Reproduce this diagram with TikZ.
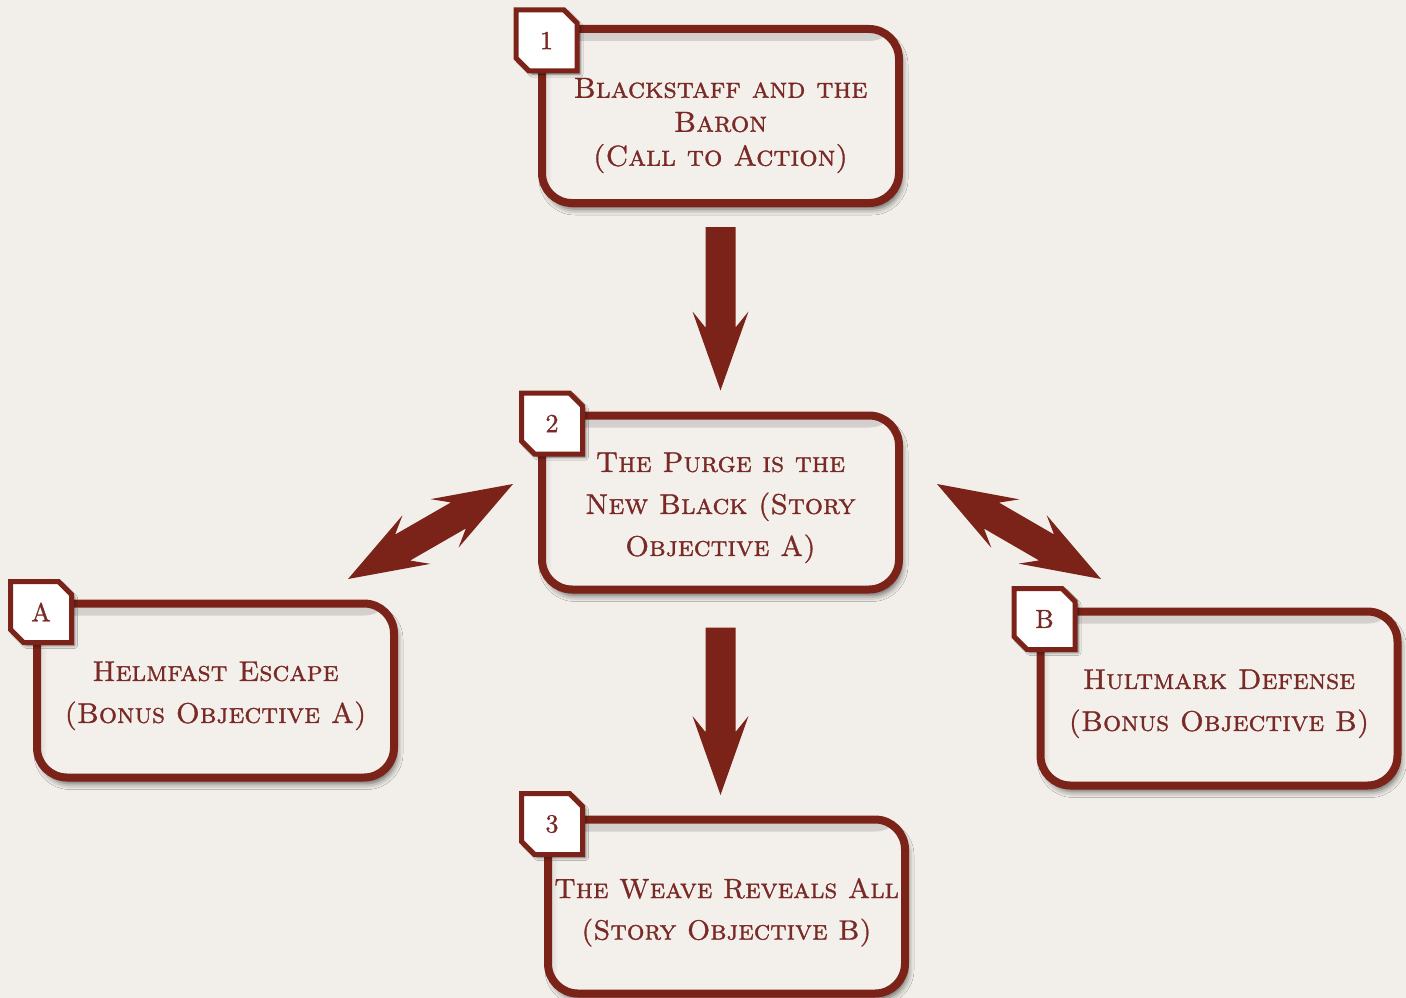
\documentclass[tikz,border=0pt]{standalone}
\usepackage{fontspec}
\usetikzlibrary{calc,shadows.blur}
\newfontfamily\capsfont{lmromancaps10-regular.otf}[FakeBold=1.2]
\newfontfamily\numfont{lmroman10-regular.otf}[FakeBold=1.2]
\definecolor{bg}{HTML}{F2EFEA}
\definecolor{dred}{HTML}{7B2318}
\definecolor{tred}{HTML}{7A2A26}
\definecolor{boxfill}{HTML}{F3F0EC}
\newcommand\lowtext[2]{\raisebox{-#1}[\height][\depth]{\begin{tabular}{@{}c@{}}#2\end{tabular}}}
\newcommand\tagbox[3]{%
  \coordinate (#1c) at #2;
  \filldraw[tagline] ($(#1c)+(-30.5,-30.5)$) -- ($(#1c)+(17.5,-30.5)$) -- ($(#1c)+(30.5,-17.5)$)
    -- ($(#1c)+(30.5,30.5)$) -- ($(#1c)+(-17.5,30.5)$) -- ($(#1c)+(-30.5,17.5)$) -- cycle;
  \node[tagtext] (#1) at (#1c) {#3};}
\newcommand\fatsingle[2]{%
  \fill[dred] let \p1=(#1), \p2=(#2), \n1={atan2(\y2-\y1,\x2-\x1)} in
    ($(\p1)+(\n1+90:15pt)$) -- ($(\p2)+(\n1+180:63pt)+(\n1+90:15pt)$) -- ($(\p2)+(\n1+180:79pt)+(\n1+90:28pt)$)
    -- (\p2) -- ($(\p2)+(\n1+180:79pt)+(\n1-90:28pt)$) -- ($(\p2)+(\n1+180:63pt)+(\n1-90:15pt)$)
    -- ($(\p1)+(\n1-90:15pt)$) -- cycle;}
\newcommand\fatdouble[2]{%
  \fill[dred] let \p1=(#1), \p2=(#2), \n1={atan2(\y2-\y1,\x2-\x1)} in
    (\p1) -- ($(\p1)+(\n1:79pt)+(\n1+90:28pt)$) -- ($(\p1)+(\n1:63pt)+(\n1+90:15pt)$)
    -- ($(\p2)+(\n1+180:63pt)+(\n1+90:15pt)$) -- ($(\p2)+(\n1+180:79pt)+(\n1+90:28pt)$)
    -- (\p2) -- ($(\p2)+(\n1+180:79pt)+(\n1-90:28pt)$) -- ($(\p2)+(\n1+180:63pt)+(\n1-90:15pt)$)
    -- ($(\p1)+(\n1:63pt)+(\n1-90:15pt)$) -- ($(\p1)+(\n1:79pt)+(\n1-90:28pt)$) -- cycle;}
\begin{document}
\begin{tikzpicture}[x=1pt,y=-1pt,
  stepbox/.style={draw=dred, line width=8pt, rounded corners=30pt, fill=boxfill,
    minimum width=357pt, minimum height=174pt, inner sep=0pt, align=center, text=tred,
    font=\fontsize{28.5}{42}\capsfont,
    blur shadow={shadow xshift=3pt, shadow yshift=-6pt, shadow blur radius=6pt, shadow opacity=60},
    path picture={
      \shade[top color=boxfill!86!black, bottom color=boxfill]
        (path picture bounding box.north west) rectangle ([yshift=-12pt]path picture bounding box.north east);
      \shade[left color=boxfill!88!black, right color=boxfill]
        ([yshift=-12pt]path picture bounding box.north west) rectangle ([xshift=10pt]path picture bounding box.south west);
    }},
  tagline/.style={draw=dred, line width=5pt, fill=white,
    blur shadow={shadow xshift=3pt, shadow yshift=-3pt, shadow blur radius=3pt, shadow opacity=60}},
  tagtext/.style={inner sep=0pt, text=tred, font=\fontsize{26}{30}\numfont}]
\fill[bg] (0,0) rectangle (1406,998);
\useasboundingbox (0,0) rectangle (1406,998);

\node[stepbox, font=\fontsize{29}{34}\capsfont] (b1) at (720.5,116) {\lowtext{9pt}{Blackstaff and the\\Baron\\(Call to Action)}};
\node[stepbox] (b2) at (720.5,502.5) {\lowtext{3pt}{The Purge is the\\New Black (Story\\Objective A)}};
\node[stepbox] (bA) at (215.5,690.5) {\lowtext{3pt}{Helmfast Escape\\(Bonus Objective A)}};
\node[stepbox] (bB) at (1219,698.5) {\lowtext{3pt}{Hultmark Defense\\(Bonus Objective B)}};
\node[stepbox, font=\fontsize{27.8}{41.5}\capsfont] (b3) at (726.5,906.5) {\lowtext{4pt}{The Weave Reveals All\\(Story Objective B)}};

\tagbox{t1}{(546.5,40.5)}{1}
\tagbox{t2}{(552,423.5)}{2}
\tagbox{tA}{(41,612)}{A}
\tagbox{tB}{(1044.5,619)}{B}
\tagbox{t3}{(552,824)}{3}

\coordinate (a1s) at ($(b1.south)+(0,20)$);
\coordinate (a1e) at ($(b2.north)+(0,-21)$);
\coordinate (a2s) at ($(b2.south)+(0,34)$);
\coordinate (a2e) at (720.5,795);
\coordinate (aLs) at (513,484);
\coordinate (aLe) at (348,579);
\coordinate (aRs) at (937,484);
\coordinate (aRe) at (1101,579);
\fatsingle{a1s}{a1e}
\fatsingle{a2s}{a2e}
\fatdouble{aLs}{aLe}
\fatdouble{aRs}{aRe}
\end{tikzpicture}
\end{document}
